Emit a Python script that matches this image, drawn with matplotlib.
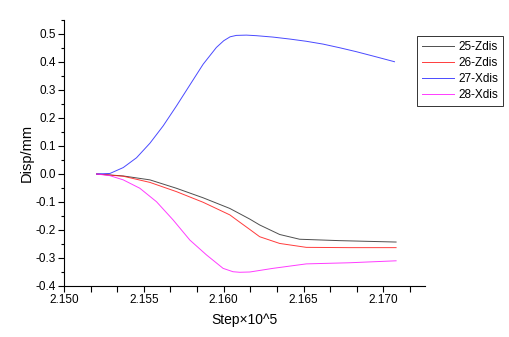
import matplotlib
matplotlib.use("Agg")
import matplotlib.pyplot as plt
from matplotlib.ticker import MultipleLocator, FormatStrFormatter

# ===================== data =====================
x_25 = [2.15204, 2.15371, 2.15538, 2.15704, 2.15871, 2.16038, 2.16163, 2.16225, 2.16350,
        2.16475, 2.16725, 2.17079]
y_25 = [0.0, -0.007, -0.021, -0.051, -0.085, -0.123, -0.161, -0.182, -0.216,
        -0.233, -0.238, -0.243]

x_26 = [2.15204, 2.15371, 2.15538, 2.15704, 2.15871, 2.16038, 2.16100, 2.16163, 2.16225,
        2.16350, 2.16517, 2.16788, 2.17079]
y_26 = [0.0, -0.008, -0.030, -0.063, -0.101, -0.146, -0.172, -0.198, -0.224,
        -0.248, -0.262, -0.263, -0.263]

x_27 = [2.15204, 2.15288, 2.15371, 2.15454, 2.15538, 2.15621, 2.15704, 2.15788, 2.15871,
        2.15954, 2.16000, 2.16040, 2.16079, 2.16142, 2.16204, 2.16308, 2.16413, 2.16517,
        2.16621, 2.16725, 2.16829, 2.16950, 2.17069]
y_27 = [0.0, 0.002, 0.023, 0.058, 0.110, 0.172, 0.243, 0.318, 0.392,
        0.452, 0.476, 0.490, 0.495, 0.496, 0.494, 0.489, 0.482, 0.474,
        0.464, 0.451, 0.437, 0.419, 0.401]

x_28 = [2.15204, 2.15288, 2.15371, 2.15475, 2.15579, 2.15683, 2.15788, 2.15892, 2.15996,
        2.16058, 2.16100, 2.16163, 2.16308, 2.16517, 2.16788, 2.17079]
y_28 = [0.0, -0.006, -0.021, -0.051, -0.099, -0.164, -0.236, -0.289, -0.337,
        -0.349, -0.351, -0.350, -0.337, -0.321, -0.317, -0.310]

series = [
    ("25-Zdis", x_25, y_25, "#303030"),
    ("26-Zdis", x_26, y_26, "#ff1a1a"),
    ("27-Xdis", x_27, y_27, "#2a2aff"),
    ("28-Xdis", x_28, y_28, "#ff1aff"),
]

# ===================== plot =====================
plt.rcParams["font.family"] = ["Liberation Sans", "DejaVu Sans"]
plt.rcParams["axes.unicode_minus"] = False

fig = plt.figure(figsize=(5.09, 3.37), dpi=100)
ax = fig.add_axes([64 / 509, 1 - 286 / 337, 361 / 509, 266 / 337])

for name, xs, ys, color in series:
    ax.plot(xs, ys, color=color, linewidth=0.7, alpha=0.85, label=name)

ax.set_xlim(2.150, 2.1726)
ax.set_ylim(-0.4, 0.55)
ax.xaxis.set_major_locator(MultipleLocator(0.005))
ax.xaxis.set_minor_locator(MultipleLocator(0.005 / 3))
ax.xaxis.set_major_formatter(FormatStrFormatter("%.3f"))
ax.yaxis.set_major_locator(MultipleLocator(0.1))
ax.yaxis.set_minor_locator(MultipleLocator(0.05))
ax.yaxis.set_major_formatter(FormatStrFormatter("%.1f"))

ax.spines["top"].set_visible(False)
ax.spines["right"].set_visible(False)
ax.tick_params(axis="both", which="major", labelsize=8.5, length=4, width=0.8, pad=2)
ax.tick_params(axis="both", which="minor", length=2.5, width=0.8)
ax.tick_params(axis="x", which="minor", length=4)

ax.set_xlabel("Step×10^5", fontsize=10, labelpad=5)
ax.set_ylabel("Disp/mm", fontsize=10.5, labelpad=1)

leg = fig.legend(loc="upper left", bbox_to_anchor=(417 / 509, 1 - 36 / 337),
                 fontsize=8.5, frameon=True, fancybox=False, edgecolor="black",
                 handlelength=2.7, borderpad=0.4, labelspacing=0.35, handletextpad=0.4,
                 borderaxespad=0)
leg.get_frame().set_linewidth(0.7)

fig.savefig("out.png", dpi=100)
